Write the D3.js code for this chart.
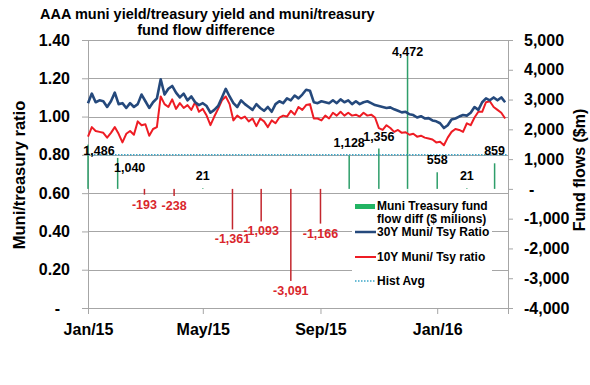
<!DOCTYPE html>
<meta charset="utf-8">
<style>
  body { margin: 0; background: #fff; }
  svg { font-family: "Liberation Sans", Arial, sans-serif; }
  .axis text { font-size: 16px; font-weight: bold; fill: #000; }
  .axis path, .axis line { stroke: #a6a6a6; }
  .grid line { stroke: #a6a6a6; stroke-width: 1; }
  .lbl { font-size: 12.5px; font-weight: bold; }
  .legend text { font-size: 12px; font-weight: bold; fill: #000; }
</style>
<body>
<svg width="590" height="385"></svg>
<script src="https://d3js.org/d3.v7.min.js"></script>
<script>
// muni/treasury ratios, one reading every 4 days from Jan 1 2015
const ratioStart = "2015-01-01";
const ratioStepDays = 4;
const ratio30 = [1.070, 1.120, 1.075, 1.085, 1.080, 1.050, 1.080, 1.125, 1.065, 1.070,
  1.045, 1.070, 1.050, 1.065, 1.115, 1.080, 1.045, 1.075, 1.095, 1.195,
  1.115, 1.145, 1.160, 1.125, 1.100, 1.120, 1.085, 1.105, 1.075, 1.060,
  1.070, 1.055, 1.020, 1.035, 1.055, 1.100, 1.145, 1.105, 1.070, 1.050,
  1.085, 1.065, 1.050, 1.035, 1.065, 1.045, 1.030, 1.050, 1.025, 1.065,
  1.080, 1.070, 1.095, 1.085, 1.110, 1.095, 1.115, 1.140, 1.135, 1.075,
  1.070, 1.080, 1.075, 1.070, 1.085, 1.070, 1.090, 1.075, 1.085, 1.065,
  1.080, 1.065, 1.075, 1.080, 1.070, 1.060, 1.055, 1.050, 1.045, 1.048,
  1.038, 1.030, 1.022, 1.025, 1.012, 1.008, 0.995, 1.002, 0.990, 0.992,
  0.980, 0.975, 0.965, 0.940, 0.955, 0.985, 0.990, 1.000, 1.008, 1.005,
  1.020, 1.050, 1.035, 1.075, 1.095, 1.085, 1.100, 1.085, 1.100, 1.075];
const ratio10 = [0.895, 0.945, 0.925, 0.920, 0.915, 0.890, 0.915, 0.945, 0.910, 0.865,
  0.910, 0.925, 0.905, 0.975, 0.955, 0.960, 0.900, 0.935, 0.945, 1.105,
  1.065, 1.050, 1.090, 1.040, 1.070, 1.045, 1.060, 1.035, 1.075, 1.025,
  1.040, 1.005, 0.955, 1.000, 1.040, 1.085, 1.105, 1.065, 0.980, 1.005,
  0.990, 1.000, 0.975, 0.990, 0.950, 0.990, 0.975, 0.945, 0.980, 0.965,
  0.995, 1.005, 1.000, 1.030, 1.010, 1.050, 1.035, 1.060, 1.065, 0.990,
  0.990, 0.980, 1.005, 0.990, 1.020, 1.005, 1.025, 1.005, 1.020, 1.005,
  1.010, 1.000, 1.020, 1.005, 1.010, 0.995, 0.940, 0.930, 0.955, 0.940,
  0.920, 0.930, 0.915, 0.918, 0.905, 0.910, 0.895, 0.900, 0.890, 0.885,
  0.880, 0.865, 0.868, 0.850, 0.890, 0.920, 0.935, 0.930, 0.920, 0.965,
  0.955, 0.995, 1.025, 1.025, 1.075, 1.080, 1.050, 1.035, 1.020, 0.990];
const histAvg = 0.80;

// monthly muni minus treasury fund flows ($m)
const flowMonths = ["2015-01", "2015-02", "2015-03", "2015-04", "2015-05", "2015-06", "2015-07",
  "2015-08", "2015-09", "2015-10", "2015-11", "2015-12", "2016-01", "2016-02", "2016-03"];
const flowDiff = [1486, 1040, -193, -238, 21, -1361, -1093, -3091, -1166, 1128, 1356, 4472, 558, 21, 859];

const xTickDates = ["2015-01-01", "2015-05-01", "2015-09-01", "2016-01-01"];
const xTickLabels = ["Jan/15", "May/15", "Sep/15", "Jan/16"];
const leftTicks = [0, 0.2, 0.4, 0.6, 0.8, 1.0, 1.2, 1.4];
const rightTicks = [-4000, -3000, -2000, -1000, 0, 1000, 2000, 3000, 4000, 5000];

const svg = d3.select("svg");
const L = 88, R = 508, T = 40, B = 308;
const parseDay = d3.timeParse("%Y-%m-%d");
const parseMonth = d3.timeParse("%Y-%m");
// plain hyphen for negatives, like the original
const comma = v => d3.format(",")(v).replace("\u2212", "-");

const x = d3.scaleTime().domain([parseDay("2015-01-01"), parseDay("2016-03-15")]).range([L, R]);
const yL = d3.scaleLinear().domain([0, 1.4]).range([B, T]);
const yR = d3.scaleLinear().domain([-4000, 5000]).range([B, T]);

const start = parseDay(ratioStart);
const ratioDates = ratio30.map((v, i) => d3.timeDay.offset(start, i * ratioStepDays));

// title
svg.append("text").attr("x", 40).attr("y", 19)
  .style("font-size", "14.5px").style("font-weight", "bold")
  .text("AAA muni yield/treasury yield and muni/treasury");
svg.append("text").attr("x", 206).attr("y", 35).attr("text-anchor", "middle")
  .style("font-size", "14.5px").style("font-weight", "bold")
  .text("fund flow difference");

// gridlines
svg.append("g").attr("class", "grid")
  .selectAll("line").data(leftTicks).enter().append("line")
  .attr("x1", L).attr("x2", R)
  .attr("y1", d => Math.round(yL(d)) + 0.5).attr("y2", d => Math.round(yL(d)) + 0.5);

// axes
svg.append("g").attr("class", "axis").attr("transform", `translate(${L},0)`)
  .call(d3.axisLeft(yL).tickValues(leftTicks).tickFormat(d => d3.format(".2f")(d))
    .tickSize(6).tickSizeOuter(0).tickPadding(12))
  .selectAll(".tick text").filter(d => d === 0).text("-").attr("dx", "-10");

svg.append("g").attr("class", "axis").attr("transform", `translate(${R},0)`)
  .call(d3.axisRight(yR).tickValues(rightTicks).tickFormat(comma)
    .tickSize(5).tickSizeOuter(0).tickPadding(11))
  .selectAll(".tick text").filter(d => d === 0).text("-").attr("dx", "5");

svg.append("g").attr("class", "axis").attr("transform", `translate(0,${B})`)
  .call(d3.axisBottom(x).tickValues(xTickDates.map(parseDay).concat([x.domain()[1]]))
    .tickFormat((d, i) => xTickLabels[i] || "")
    .tickSize(6).tickSizeOuter(0).tickPadding(10));

// fund flow bars
const bars = flowMonths.map((m, i) => ({ date: parseMonth(m), v: flowDiff[i], i }));
svg.append("g").selectAll("rect").data(bars).enter().append("rect")
  .attr("x", d => x(d.date) - 0.75)
  .attr("width", 1.5)
  .attr("y", d => d.v >= 0 ? yR(d.v) : yR(0))
  .attr("height", d => Math.abs(yR(d.v) - yR(0)))
  .attr("fill", d => d.v >= 0 ? "#2e9e6a" : "#c3272e");

// hist avg
svg.append("line")
  .attr("x1", L).attr("x2", R).attr("y1", yL(histAvg)).attr("y2", yL(histAvg))
  .attr("stroke", "#3aa6c8").attr("stroke-width", 1.5).attr("stroke-dasharray", "1.5,1.5");

// ratio lines
const line = d3.line().x((d, i) => x(ratioDates[i])).y(d => yL(d));
svg.append("path").datum(ratio10).attr("fill", "none")
  .attr("stroke", "#ee1c24").attr("stroke-width", 2).attr("stroke-linejoin", "round")
  .attr("d", line);
svg.append("path").datum(ratio30).attr("fill", "none")
  .attr("stroke", "#25497c").attr("stroke-width", 2.6).attr("stroke-linejoin", "round")
  .attr("d", line);

// bar labels
const nudge = { 0: [11, 18], 1: [12, 22], 11: [0, 8] };
svg.append("g").selectAll("text").data(bars).enter().append("text")
  .attr("class", "lbl")
  .attr("text-anchor", "middle")
  .attr("x", d => x(d.date) + (nudge[d.i] ? nudge[d.i][0] : 0))
  .attr("y", d => (d.v >= 0 ? yR(d.v) - 8 : yR(d.v) + 14) + (nudge[d.i] ? nudge[d.i][1] : 0))
  .attr("fill", d => d.v >= 0 ? "#000" : "#d9262c")
  .text(d => comma(d.v));

// axis titles
svg.append("text").attr("transform", "translate(25,175) rotate(-90)")
  .attr("text-anchor", "middle").style("font-size", "16.5px").style("font-weight", "bold")
  .text("Muni/treasury ratio");
svg.append("text").attr("transform", "translate(585,170) rotate(-90)")
  .attr("text-anchor", "middle").style("font-size", "16px").style("font-weight", "bold")
  .text("Fund flows ($m)");

// legend
const lg = svg.append("g").attr("class", "legend");
lg.append("rect").attr("x", 352).attr("y", 196).attr("width", 140).attr("height", 103).attr("fill", "#fff");
lg.append("rect").attr("x", 355).attr("y", 204).attr("width", 20).attr("height", 5).attr("fill", "#22b463");
lg.append("text").attr("x", 377).attr("y", 210).text("Muni Treasury fund");
lg.append("text").attr("x", 377).attr("y", 223).text("flow diff ($ milions)");
lg.append("line").attr("x1", 355).attr("x2", 376).attr("y1", 232).attr("y2", 232)
  .attr("stroke", "#25497c").attr("stroke-width", 2.5);
lg.append("text").attr("x", 377).attr("y", 236).text("30Y Muni/ Tsy Ratio");
lg.append("line").attr("x1", 355).attr("x2", 376).attr("y1", 257).attr("y2", 257)
  .attr("stroke", "#ee1c24").attr("stroke-width", 2);
lg.append("text").attr("x", 377).attr("y", 261).text("10Y Muni/ Tsy ratio");
lg.append("line").attr("x1", 355).attr("x2", 376).attr("y1", 281).attr("y2", 281)
  .attr("stroke", "#3aa6c8").attr("stroke-width", 1.5).attr("stroke-dasharray", "1.5,1.5");
lg.append("text").attr("x", 377).attr("y", 285).text("Hist Avg");
</script>
</body>
